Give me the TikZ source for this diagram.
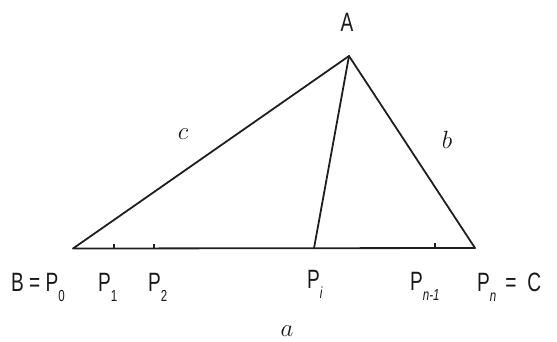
\documentclass[tikz,border=0pt]{standalone}
\usepackage{fontspec}
\newfontfamily\hand[FakeStretch=0.72]{Liberation Sans}
\begin{document}
\begin{tikzpicture}[x=1pt,y=-1pt,
  edge/.style={line width=1.8pt,color=black!88,line join=round,line cap=round},
  tick/.style={line width=1.3pt,color=black!88},
  caplabel/.style={inner sep=0pt,anchor=base west,font=\hand\fontsize{26.5}{26.5}\selectfont,text=black!90},
  lowlabel/.style={inner sep=0pt,font=\fontsize{29}{29}\selectfont,text=black!90}]
\newcommand{\sbx}[1]{\raisebox{-10pt}{\fontsize{16}{16}\selectfont #1}}
\useasboundingbox (0,0) rectangle (557,341);
% vertices
\coordinate (A) at (349,56);
\coordinate (B) at (73,248.5);
\coordinate (C) at (475,248);
\coordinate (Pi) at (314,248.3);
\coordinate (P1) at (114,248.5);
\coordinate (P2) at (154,248.5);
\coordinate (Pm) at (435,248.1);
% triangle and cevian
\draw[edge] (B) -- (C) -- (A) -- cycle;
\draw[edge] (A) -- (Pi);
% ticks
\draw[tick] (P1) -- ++(0,-5);
\draw[tick] (P2) -- ++(0,-5);
\draw[tick] (Pm) -- ++(0,-5);
% labels
\node[caplabel,anchor=center] (lA) at (347,22.5) {A};
\node[caplabel] (lB) at (11,291) {B = P\sbx{0}};
\node[caplabel] (l1) at (98,291) {P\sbx{1}};
\node[caplabel] (l2) at (148,291) {P\sbx{2}};
\node[caplabel] (li) at (307,288) {P\sbx{\itshape i}};
\node[caplabel] (lm) at (410,290) {P\sbx{\itshape n-1}};
\node[caplabel] (ln) at (477,291) {P\sbx{\itshape n}\hspace{9pt}=\hspace{11pt}C};
\node[lowlabel] (lc) at (183,134) {$c$};
\node[lowlabel] (lb) at (447,140) {$b$};
\node[lowlabel] (la) at (287,331) {$a$};
\end{tikzpicture}
\end{document}
